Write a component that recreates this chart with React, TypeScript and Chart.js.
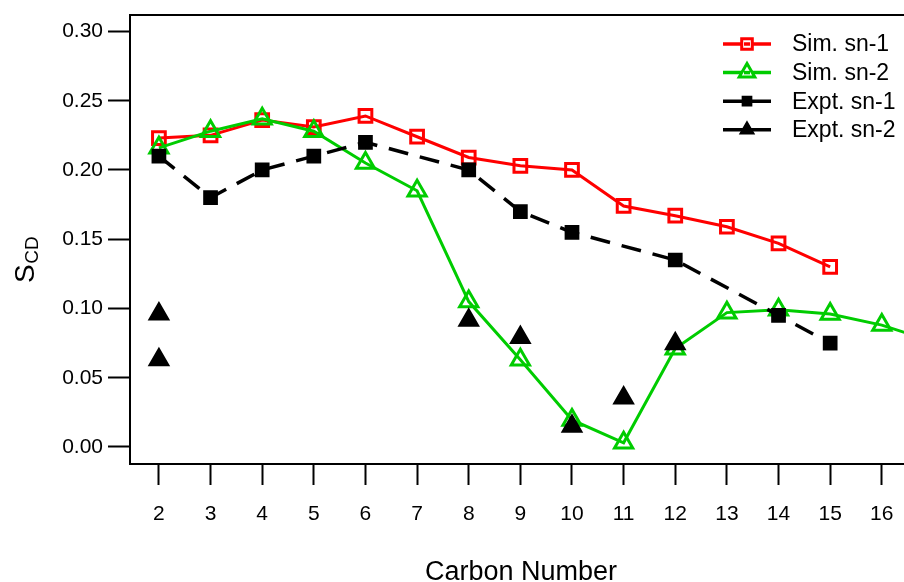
import React, { useEffect, useRef } from 'react';
import { Chart, registerables } from 'chart.js';

Chart.register(...registerables);

// ---- data ----
const xTickValues = [2, 3, 4, 5, 6, 7, 8, 9, 10, 11, 12, 13, 14, 15, 16];
const yTickValues = [0, 0.05, 0.1, 0.15, 0.2, 0.25, 0.3];

const simSn1X = [2, 3, 4, 5, 6, 7, 8, 9, 10, 11, 12, 13, 14, 15];
const simSn1Y = [0.223, 0.225, 0.236, 0.231, 0.239, 0.224, 0.209, 0.203, 0.2, 0.174, 0.167, 0.159, 0.147, 0.13];

const simSn2X = [2, 3, 4, 5, 6, 7, 8, 9, 10, 11, 12, 13, 14, 15, 16, 17];
const simSn2Y = [0.216, 0.228, 0.237, 0.228, 0.205, 0.185, 0.105, 0.063, 0.0195, 0.003, 0.071, 0.097, 0.099, 0.096, 0.088, 0.076];

const exptSn1X = [2, 3, 4, 5, 6, 8, 9, 10, 12, 14, 15];
const exptSn1Y = [0.21, 0.18, 0.2, 0.21, 0.22, 0.2, 0.17, 0.155, 0.135, 0.095, 0.075];

const exptSn2X = [2, 2, 8, 9, 10, 11, 12];
const exptSn2Y = [0.096, 0.063, 0.0915, 0.079, 0.015, 0.0354, 0.0745];

const seriesNames = ['Sim. sn-1', 'Sim. sn-2', 'Expt. sn-1', 'Expt. sn-2'];

const RED = '#ff0000';
const GREEN = '#00cc00';
const BLACK = '#000000';
const FONT = "'Liberation Sans', Arial, Helvetica, sans-serif";

const toPts = (xs: number[], ys: number[]) => xs.map((x, i) => ({ x, y: ys[i] }));

function markerPath(ctx: CanvasRenderingContext2D, style: string, x: number, y: number, r: number) {
  ctx.beginPath();
  if (style === 'rect') {
    const s = Math.SQRT1_2 * r;
    ctx.rect(x - s, y - s, 2 * s, 2 * s);
  } else {
    let rad = 0;
    ctx.moveTo(x + Math.sin(rad) * r, y - Math.cos(rad) * r);
    rad += (2 * Math.PI) / 3;
    ctx.lineTo(x + Math.sin(rad) * r, y - Math.cos(rad) * r);
    rad += (2 * Math.PI) / 3;
    ctx.lineTo(x + Math.sin(rad) * r, y - Math.cos(rad) * r);
    ctx.closePath();
  }
}

const legendItems = [
  { color: RED, style: 'rect', r: 7.5, fill: false },
  { color: GREEN, style: 'triangle', r: 9, fill: false },
  { color: BLACK, style: 'rect', r: 6.5, fill: true },
  { color: BLACK, style: 'triangle', r: 8, fill: true },
];

const decorPlugin = {
  id: 'decor',
  afterDraw(chart: any) {
    const ctx: CanvasRenderingContext2D = chart.ctx;
    const ca = chart.chartArea;
    ctx.save();
    // top frame
    ctx.strokeStyle = BLACK;
    ctx.lineWidth = 2;
    ctx.beginPath();
    ctx.moveTo(ca.left - 1, ca.top);
    ctx.lineTo(ca.right, ca.top);
    ctx.stroke();

    // legend
    const lx0 = 723;
    const lx1 = 771;
    const mx = 747;
    const tx = 792;
    const y0 = 44;
    const dy = 28.6;
    legendItems.forEach((it, i) => {
      const y = y0 + i * dy;
      ctx.strokeStyle = it.color;
      ctx.lineWidth = 3.5;
      ctx.setLineDash([]);
      ctx.beginPath();
      ctx.moveTo(lx0, y);
      ctx.lineTo(lx1, y);
      ctx.stroke();
      markerPath(ctx, it.style, mx, y, it.r);
      if (it.fill) {
        ctx.fillStyle = it.color;
        ctx.fill();
        ctx.lineWidth = 1.5;
        ctx.stroke();
      } else {
        ctx.fillStyle = '#ffffff';
        ctx.fill();
        ctx.lineWidth = 3;
        ctx.stroke();
        ctx.lineWidth = 3.5;
        ctx.beginPath();
        ctx.moveTo(mx - 3, y);
        ctx.lineTo(mx + 3, y);
        ctx.stroke();
      }
      ctx.fillStyle = BLACK;
      ctx.font = `23px ${FONT}`;
      ctx.textAlign = 'left';
      ctx.textBaseline = 'middle';
      ctx.fillText(seriesNames[i], tx, y + 1);
    });

    // x title
    ctx.fillStyle = BLACK;
    ctx.font = `27px ${FONT}`;
    ctx.textAlign = 'center';
    ctx.textBaseline = 'alphabetic';
    ctx.fillText('Carbon Number', 521, 580);

    // y title S_CD (rotated)
    ctx.rotate(-Math.PI / 2);
    ctx.textAlign = 'left';
    ctx.font = `28px ${FONT}`;
    const sW = ctx.measureText('S').width;
    ctx.fillText('S', -283, 34);
    ctx.font = `19px ${FONT}`;
    ctx.fillText('CD', -283 + sW + 0.5, 38);
    ctx.restore();
  },
};

export default function App() {
  const canvasRef = useRef<HTMLCanvasElement | null>(null);

  useEffect(() => {
    const canvas = canvasRef.current;
    if (!canvas) return;
    Chart.defaults.font.family = FONT;
    Chart.defaults.color = BLACK;

    const chart = new Chart(canvas, {
      type: 'line',
      data: {
        datasets: [
          {
            label: seriesNames[0],
            data: toPts(simSn1X, simSn1Y),
            borderColor: RED,
            borderWidth: 3,
            pointStyle: 'rect',
            pointRadius: 9,
            pointBorderWidth: 3,
            pointBorderColor: RED,
            pointBackgroundColor: 'rgba(0,0,0,0)',
            order: 3,
          },
          {
            label: seriesNames[1],
            data: toPts(simSn2X, simSn2Y),
            borderColor: GREEN,
            borderWidth: 3,
            pointStyle: 'triangle',
            pointRadius: 10.5,
            pointBorderWidth: 3,
            pointBorderColor: GREEN,
            pointBackgroundColor: 'rgba(0,0,0,0)',
            order: 2,
          },
          {
            label: seriesNames[2],
            data: toPts(exptSn1X, exptSn1Y),
            borderColor: BLACK,
            borderWidth: 3.5,
            borderDash: [20, 12],
            pointStyle: 'rect',
            pointRadius: 9,
            pointBorderWidth: 2,
            pointBorderColor: BLACK,
            pointBackgroundColor: BLACK,
            order: 1,
          },
          {
            label: seriesNames[3],
            data: toPts(exptSn2X, exptSn2Y),
            showLine: false,
            borderColor: BLACK,
            pointStyle: 'triangle',
            pointRadius: 11,
            pointBorderWidth: 2,
            pointBorderColor: BLACK,
            pointBackgroundColor: BLACK,
            order: 0,
          },
        ],
      },
      options: {
        responsive: false,
        animation: false,
        devicePixelRatio: 1,
        layout: { autoPadding: false, padding: { top: 15, right: 0, left: 0, bottom: 0 } },
        plugins: {
          legend: { display: false },
          tooltip: { enabled: false },
        },
        elements: { line: { tension: 0, borderCapStyle: 'butt', borderJoinStyle: 'miter' } },
        scales: {
          x: {
            type: 'linear',
            min: 1.44,
            max: 16.43,
            afterBuildTicks: (s: any) => {
              s.ticks = xTickValues.map((v) => ({ value: v }));
            },
            afterFit: (s: any) => {
              s.height = 118;
              s.paddingLeft = 0;
              s.paddingRight = 0;
            },
            grid: {
              drawOnChartArea: false,
              drawTicks: true,
              tickLength: 21,
              tickWidth: 2,
              tickColor: BLACK,
            },
            border: { display: true, color: BLACK, width: 2 },
            ticks: {
              autoSkip: false,
              maxRotation: 0,
              padding: 17,
              color: BLACK,
              font: { size: 21 },
              callback: (v: any) => String(v),
            },
          },
          y: {
            type: 'linear',
            min: -0.0123,
            max: 0.3119,
            afterBuildTicks: (s: any) => {
              s.ticks = yTickValues.map((v) => ({ value: v }));
            },
            afterFit: (s: any) => {
              s.width = 130;
              s.paddingTop = 0;
              s.paddingBottom = 0;
            },
            grid: {
              drawOnChartArea: false,
              drawTicks: true,
              tickLength: 22,
              tickWidth: 2,
              tickColor: BLACK,
            },
            border: { display: true, color: BLACK, width: 2 },
            ticks: {
              padding: 5,
              color: BLACK,
              font: { size: 21 },
              callback: (v: any) => Number(v).toFixed(2),
            },
          },
        },
      },
      plugins: [decorPlugin],
    } as any);

    return () => {
      chart.destroy();
    };
  }, []);

  return (
    <div style={{ position: 'fixed', left: 0, top: 0, width: 904, height: 582, overflow: 'hidden', background: '#fff' }}>
      <canvas ref={canvasRef} width={904} height={582} style={{ display: 'block', width: 904, height: 582 }} />
    </div>
  );
}
